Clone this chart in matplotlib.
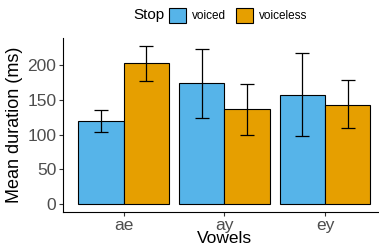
import numpy as np
import matplotlib
matplotlib.use("Agg")
import matplotlib.pyplot as plt
from matplotlib.patches import Patch

plt.rcParams["font.family"] = ["Liberation Sans", "DejaVu Sans"]

vowels = ["ae", "ay", "ey"]
stops = ["voiced", "voiceless"]
colors = ["#56B4E9", "#E69F00"]

voiced_mean = [119.5, 174, 158]
voiced_lo = [104, 124, 98]
voiced_hi = [136, 224, 218.5]
voiceless_mean = [203, 137, 143.5]
voiceless_lo = [178, 100, 109.5]
voiceless_hi = [228.5, 173, 178.5]

means = [voiced_mean, voiceless_mean]
los = [voiced_lo, voiceless_lo]
his = [voiced_hi, voiceless_hi]

fig = plt.figure(figsize=(3.79, 2.46), dpi=100)
ax = fig.add_axes([0.167, 0.138, 0.85, 0.709])

x = np.arange(len(vowels))
w = 0.45
for i in range(2):
    pos = x + (i - 0.5) * w
    m = np.array(means[i])
    lo = np.array(los[i])
    hi = np.array(his[i])
    ax.bar(pos, m, width=w, color=colors[i], edgecolor="black", linewidth=0.8)
    ax.errorbar(pos, m, yerr=[m - lo, hi - m], fmt="none", ecolor="black",
                elinewidth=0.9, capsize=5, capthick=0.9)

ax.set_xlim(-0.6, 2.6)
ax.set_ylim(-11.4, 240)
ax.set_yticks([0, 50, 100, 150, 200])
ax.set_xticks(x)
ax.set_xticklabels(vowels)
for s in ["top", "right"]:
    ax.spines[s].set_visible(False)
for s in ["left", "bottom"]:
    ax.spines[s].set_linewidth(0.8)
ax.tick_params(labelsize=12.5, labelcolor="#4D4D4D", color="#333333", length=3, width=0.8, pad=2)
ax.tick_params(axis="x", pad=1)
ax.set_xlabel("Vowels", fontsize=12.5, labelpad=-1)
ax.set_ylabel("Mean duration (ms)", fontsize=13, labelpad=3)

fig.text(0.351, 0.937, "Stop", fontsize=11, va="center", ha="left")
handles = [Patch(facecolor=c, edgecolor="black", linewidth=0.8) for c in colors]
fig.legend(handles, stops, loc="center left", bbox_to_anchor=(0.445, 0.937), ncol=2,
           frameon=False, fontsize=8.5, handlelength=1.5, handleheight=1.5,
           handletextpad=0.5, columnspacing=0.8, borderaxespad=0, borderpad=0)

fig.savefig("out.png", dpi=100)
